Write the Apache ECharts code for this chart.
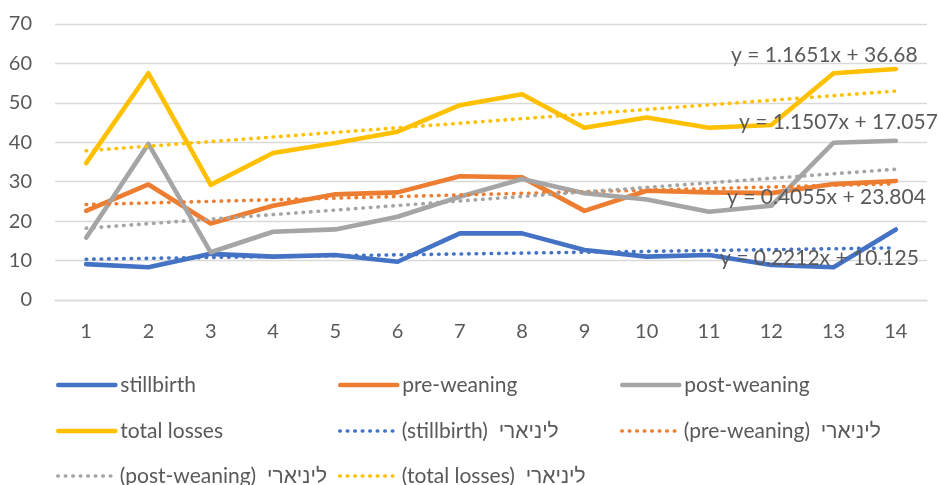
<!DOCTYPE html>
<html>
<head>
<meta charset="utf-8">
<script src="https://cdn.jsdelivr.net/npm/echarts@6/dist/echarts.min.js"></script>
<style>
  html, body { margin: 0; padding: 0; background: #fff; }
  #chart { width: 939px; height: 485px; }
</style>
</head>
<body>
<div id="chart"></div>
<script>
// ---- data ----
const categories = ['1', '2', '3', '4', '5', '6', '7', '8', '9', '10', '11', '12', '13', '14'];
const stillbirth = [9.1, 8.3, 11.7, 11.0, 11.4, 9.7, 16.9, 16.9, 12.7, 11.0, 11.4, 8.9, 8.3, 17.9];
const preWeaning = [22.6, 29.3, 19.4, 23.9, 26.8, 27.3, 31.4, 31.1, 22.6, 27.7, 27.3, 27.1, 29.4, 30.2];
const postWeaning = [15.8, 39.6, 12.1, 17.3, 17.9, 21.1, 26.2, 30.7, 27.1, 25.5, 22.4, 23.9, 39.9, 40.4];
const totalLosses = [34.7, 57.5, 29.2, 37.3, 39.8, 42.7, 49.4, 52.2, 43.7, 46.3, 43.7, 44.4, 57.5, 58.6];
// linear trend lines: value at first and last category
const trendStillbirth = [10.35, 13.22];
const trendPreWeaning = [24.21, 29.48];
const trendPostWeaning = [18.21, 33.17];
const trendTotalLosses = [37.85, 52.99];
const seriesNames = ['stillbirth', 'pre-weaning', 'post-weaning', 'total losses'];
const trendNames = ['(stillbirth)  ליניארי', '(pre-weaning)  ליניארי', '(post-weaning)  ליניארי', '(total losses)  ליניארי'];
const equations = ['y = 0.2212x + 10.125', 'y = 0.4055x + 23.804', 'y = 1.1507x + 17.057', 'y = 1.1651x + 36.68'];
const yTicks = [0, 70, 10];

// ---- styling ----
const colors = ['#4472C4', '#ED7D31', '#A5A5A5', '#FFC000'];
const FONT = 'Lato, "Liberation Sans", "DejaVu Sans", sans-serif';
const TXT = '#595959';

function trendData(ends) {
  const d = categories.map(() => null);
  d[0] = ends[0];
  d[d.length - 1] = ends[1];
  return d;
}

const mains = [stillbirth, preWeaning, postWeaning, totalLosses];
const trends = [trendStillbirth, trendPreWeaning, trendPostWeaning, trendTotalLosses];

const series = [];
mains.forEach((vals, i) => {
  series.push({
    name: seriesNames[i], type: 'line', data: vals, symbol: 'none', z: 2,
    itemStyle: { color: colors[i] },
    lineStyle: { color: colors[i], width: 4.6, cap: 'round', join: 'round' }
  });
});
trends.forEach((ends, i) => {
  series.push({
    name: trendNames[i], type: 'line', data: trendData(ends), symbol: 'none', connectNulls: true, z: 3,
    itemStyle: { color: colors[i] },
    lineStyle: { color: colors[i], width: 3.6, type: [0.5, 7], cap: 'round' }
  });
});

// legend layout: 3 columns x 3 rows
const legendOrder = [seriesNames[0], seriesNames[1], seriesNames[2], seriesNames[3], trendNames[0], trendNames[1], trendNames[2], trendNames[3]];
const colLeft = [56, 338, 620];
const rowCenter = [385, 431, 476];
const legends = legendOrder.map((name, k) => ({
  data: [name],
  left: colLeft[k % 3],
  top: rowCenter[Math.floor(k / 3)] - 11,
  padding: 0,
  itemWidth: 57,
  itemHeight: 14,
  itemStyle: { opacity: 0 },
  lineStyle: { width: 'inherit', type: 'inherit', cap: 'inherit' },
  textStyle: { fontSize: 21, color: TXT, fontFamily: FONT, lineHeight: 22 },
  selectedMode: false
}));

const eqPos = [[720, 258], [727, 197], [739, 122.5], [731, 55]];
const graphics = equations.map((t, i) => ({
  type: 'text', z: 100,
  style: { text: t, x: eqPos[i][0], y: eqPos[i][1], textVerticalAlign: 'middle', textAlign: 'left',
           fill: TXT, fontSize: 21, fontFamily: FONT }
}));

const chart = echarts.init(document.getElementById('chart'), null, { renderer: 'canvas' });
chart.setOption({
  animation: false,
  backgroundColor: '#ffffff',
  textStyle: { fontFamily: FONT },
  grid: { left: 55, right: 12, top: 24, bottom: 185, containLabel: false },
  xAxis: {
    type: 'category', data: categories, boundaryGap: true,
    axisLine: { show: true, lineStyle: { color: '#D9D9D9', width: 1.3 } },
    axisTick: { show: false },
    axisLabel: { fontSize: 20, color: TXT, fontFamily: FONT, margin: 22 }
  },
  yAxis: {
    type: 'value', min: yTicks[0], max: yTicks[1], interval: yTicks[2],
    axisLine: { show: false }, axisTick: { show: false },
    splitLine: { lineStyle: { color: '#D9D9D9', width: 1.3 } },
    axisLabel: { fontSize: 20, color: TXT, fontFamily: FONT, margin: 23 }
  },
  legend: legends,
  series: series,
  graphic: graphics
});
</script>
</body>
</html>
